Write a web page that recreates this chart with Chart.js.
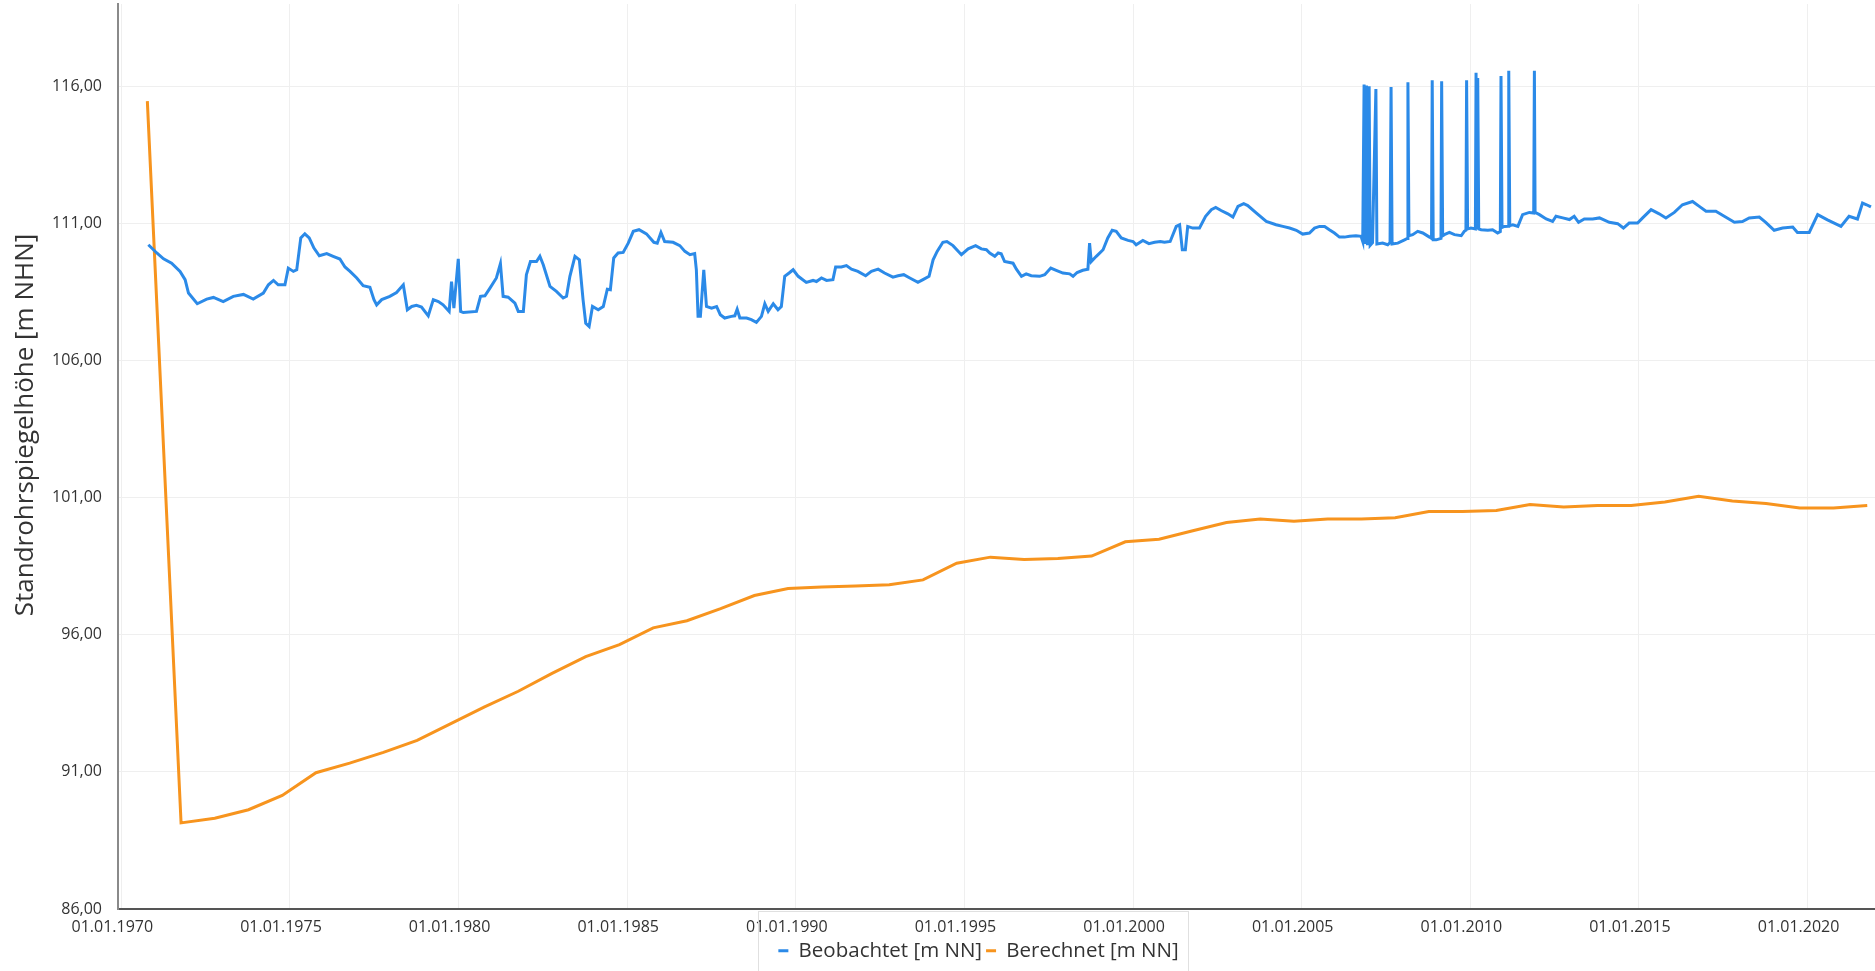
<!DOCTYPE html>
<html>
<head>
<meta charset="utf-8">
<script src="https://cdn.jsdelivr.net/npm/chart.js@4.4.1/dist/chart.umd.min.js"></script>
<style>
  html, body { margin: 0; padding: 0; background: #ffffff; }
  #wrap { width: 1875px; height: 971px; position: relative; }
  canvas { display: block; }
</style>
</head>
<body>
<div id="wrap"><canvas id="c" width="1875" height="971"></canvas></div>
<script>
// ---------- data ----------
const seriesNames = ['Beobachtet [m NN]', 'Berechnet [m NN]'];
const yAxisTitle = 'Standrohrspiegelhöhe [m NHN]';
const xTickYears = [1970, 1975, 1980, 1985, 1990, 1995, 2000, 2005, 2010, 2015, 2020];
const yTickValues = [86, 91, 96, 101, 106, 111, 116];

// observed (Beobachtet): decimal year / level
const obsYears = [
1970.80,1971.05,1971.25,1971.49,1971.74,1971.89,1971.99,1972.25,1972.53,1972.73,
1973.02,1973.32,1973.62,1973.91,1974.21,1974.36,1974.51,1974.65,1974.85,1974.95,
1975.10,1975.20,1975.32,1975.44,1975.57,1975.71,1975.87,1976.09,1976.28,1976.48,
1976.63,1976.78,1976.98,1977.17,1977.37,1977.49,1977.57,1977.72,1977.96,1978.16,
1978.36,1978.48,1978.61,1978.75,1978.90,1979.10,1979.25,1979.40,1979.54,1979.72,
1979.79,1979.86,1979.99,1980.06,1980.14,1980.53,1980.65,1980.78,1980.93,1981.12,
1981.24,1981.32,1981.47,1981.67,1981.77,1981.92,1982.01,1982.13,1982.31,1982.41,
1982.51,1982.71,1982.90,1983.10,1983.20,1983.30,1983.45,1983.58,1983.69,1983.77,
1983.87,1983.97,1984.14,1984.29,1984.41,1984.50,1984.60,1984.73,1984.88,1985.03,
1985.18,1985.35,1985.57,1985.79,1985.89,1986.00,1986.11,1986.36,1986.56,1986.71,
1986.86,1987.00,1987.05,1987.10,1987.17,1987.27,1987.35,1987.50,1987.65,1987.76,
1987.89,1988.09,1988.19,1988.26,1988.34,1988.54,1988.68,1988.83,1988.98,1989.08,
1989.18,1989.33,1989.47,1989.57,1989.67,1989.80,1989.92,1990.07,1990.31,1990.51,
1990.61,1990.76,1990.91,1991.10,1991.18,1991.35,1991.50,1991.65,1991.84,1992.07,
1992.24,1992.44,1992.63,1992.88,1993.03,1993.20,1993.38,1993.62,1993.77,1993.95,
1994.07,1994.19,1994.36,1994.48,1994.66,1994.91,1995.11,1995.33,1995.50,1995.65,
1995.75,1995.90,1996.00,1996.09,1996.19,1996.44,1996.54,1996.69,1996.83,1996.98,
1997.23,1997.38,1997.56,1997.72,1997.92,1998.12,1998.22,1998.34,1998.51,1998.66,
1998.71,1998.76,1998.91,1999.11,1999.25,1999.38,1999.50,1999.65,1999.85,2000.00,
2000.09,2000.29,2000.47,2000.64,2000.81,2000.93,2001.10,2001.28,2001.38,2001.46,
2001.55,2001.62,2001.77,2001.97,2002.15,2002.32,2002.45,2002.61,2002.81,2002.96,
2003.11,2003.28,2003.40,2003.65,2003.95,2004.24,2004.44,2004.64,2004.84,2005.03,
2005.23,2005.38,2005.53,2005.68,2005.82,2005.97,2006.12,2006.27,2006.42,2006.61,
2006.76,2006.81,2006.85,2006.88,2006.92,2006.95,2007.00,2007.03,2007.10,2007.20,
2007.23,2007.40,2007.55,2007.62,2007.65,2007.68,2007.85,2008.05,2008.13,2008.15,
2008.18,2008.29,2008.44,2008.59,2008.79,2008.85,2008.87,2008.90,2008.99,2009.13,
2009.15,2009.18,2009.23,2009.38,2009.53,2009.73,2009.82,2009.87,2009.89,2009.92,
2010.02,2010.15,2010.17,2010.20,2010.22,2010.25,2010.32,2010.52,2010.66,2010.81,
2010.89,2010.91,2010.94,2011.01,2011.12,2011.14,2011.17,2011.26,2011.41,2011.55,
2011.75,2011.88,2011.90,2011.92,2012.05,2012.25,2012.44,2012.54,2012.74,2012.94,
2013.08,2013.21,2013.38,2013.63,2013.83,2014.12,2014.37,2014.54,2014.71,2014.96,
2015.11,2015.36,2015.60,2015.80,2016.05,2016.29,2016.59,2016.79,2016.99,2017.28,
2017.53,2017.83,2018.07,2018.27,2018.57,2018.76,2019.01,2019.26,2019.56,2019.70,
2020.05,2020.30,2020.59,2020.99,2021.23,2021.48,2021.63,2021.75,2021.88
];
const obsValues = [
110.22,109.92,109.71,109.55,109.25,108.95,108.46,108.07,108.24,108.30,
108.15,108.34,108.41,108.24,108.46,108.76,108.92,108.76,108.76,109.37,
109.25,109.31,110.47,110.62,110.47,110.10,109.82,109.90,109.80,109.70,
109.41,109.25,109.01,108.73,108.67,108.22,108.03,108.22,108.34,108.48,
108.76,107.85,107.97,108.01,107.95,107.63,108.22,108.15,108.03,107.79,
108.88,107.91,109.71,107.79,107.75,107.79,108.34,108.36,108.64,109.01,
109.53,108.34,108.31,108.09,107.79,107.79,109.13,109.61,109.61,109.80,
109.49,108.70,108.52,108.28,108.34,109.07,109.80,109.67,108.22,107.36,
107.24,107.97,107.85,107.97,108.60,108.58,109.74,109.92,109.94,110.28,
110.71,110.77,110.62,110.31,110.28,110.67,110.34,110.31,110.19,109.98,
109.86,109.90,109.31,107.61,107.61,109.31,107.97,107.91,107.97,107.67,
107.55,107.61,107.63,107.87,107.55,107.55,107.49,107.39,107.61,108.07,
107.79,108.07,107.85,107.97,109.07,109.19,109.31,109.07,108.85,108.92,
108.88,109.01,108.92,108.95,109.41,109.41,109.46,109.33,109.25,109.09,
109.25,109.33,109.19,109.04,109.09,109.13,109.01,108.85,108.95,109.07,
109.67,109.98,110.31,110.34,110.19,109.86,110.07,110.19,110.07,110.04,
109.92,109.80,109.92,109.89,109.61,109.55,109.33,109.07,109.16,109.09,
109.07,109.13,109.37,109.29,109.19,109.16,109.07,109.21,109.29,109.33,
110.28,109.61,109.80,110.04,110.47,110.75,110.71,110.47,110.38,110.34,
110.22,110.38,110.26,110.31,110.34,110.31,110.34,110.89,110.95,110.04,
110.04,110.89,110.83,110.83,111.26,111.50,111.58,111.47,111.35,111.23,
111.62,111.72,111.65,111.38,111.07,110.95,110.89,110.83,110.75,110.61,
110.65,110.83,110.89,110.89,110.77,110.65,110.50,110.50,110.53,110.55,
110.53,110.34,116.06,110.25,116.03,110.20,116.00,110.20,110.30,115.90,
110.25,110.28,110.22,110.30,115.97,110.25,110.28,110.40,110.45,116.15,
110.55,110.59,110.71,110.65,110.50,110.45,116.22,110.40,110.40,110.45,
116.18,110.55,110.59,110.67,110.59,110.55,110.71,110.75,116.22,110.80,
110.83,110.80,116.49,110.85,116.30,110.80,110.77,110.75,110.77,110.65,
110.70,116.37,110.85,110.89,110.90,116.57,110.92,110.95,110.89,111.32,
111.40,111.38,116.57,111.40,111.32,111.16,111.07,111.26,111.20,111.14,
111.26,111.04,111.16,111.16,111.20,111.04,110.99,110.83,111.01,111.01,
111.20,111.50,111.35,111.20,111.40,111.68,111.80,111.62,111.44,111.44,
111.26,111.04,111.07,111.20,111.23,111.04,110.75,110.83,110.87,110.67,
110.67,111.32,111.13,110.89,111.26,111.16,111.74,111.68,111.60
];

// calculated (Berechnet): decimal year / level
const calcYears = [
1970.77,1971.77,1972.77,1973.77,1974.77,1975.77,1976.77,1977.77,1978.77,1979.77,
1980.77,1981.77,1982.77,1983.77,1984.77,1985.77,1986.77,1987.77,1988.77,1989.77,
1990.77,1991.77,1992.77,1993.77,1994.77,1995.77,1996.77,1997.77,1998.77,1999.77,
2000.77,2001.77,2002.77,2003.77,2004.77,2005.77,2006.77,2007.77,2008.77,2009.77,
2010.77,2011.77,2012.77,2013.77,2014.77,2015.77,2016.77,2017.77,2018.77,2019.77,
2020.77,2021.77
];
const calcValues = [
115.46,89.14,89.31,89.62,90.14,90.97,91.32,91.71,92.15,92.76,
93.37,93.94,94.59,95.20,95.64,96.25,96.51,96.95,97.43,97.69,
97.74,97.78,97.82,98.00,98.61,98.83,98.74,98.78,98.87,99.39,
99.48,99.79,100.09,100.22,100.14,100.22,100.22,100.27,100.49,100.49,
100.53,100.75,100.66,100.71,100.71,100.84,101.05,100.88,100.79,100.62,
100.62,100.71
];

// ---------- chart ----------
const FONT = "'Open Sans', 'Noto Sans', sans-serif";
const LEGEND_SHIFT = 41;
const toPoints = (xs, ys) => xs.map((x, i) => ({ x: x, y: ys[i] }));

const extras = {
  id: 'extras',
  afterLayout(chart) {
    const lg = chart.legend;
    if (lg) { lg.left += LEGEND_SHIFT; lg.right += LEGEND_SHIFT; }
  },
  afterDraw(chart) {
    const ctx = chart.ctx;
    // y axis title
    ctx.save();
    ctx.translate(26, 425);
    ctx.rotate(-Math.PI / 2);
    ctx.fillStyle = '#333333';
    ctx.font = "26px " + FONT;
    ctx.textAlign = 'center';
    ctx.textBaseline = 'middle';
    ctx.fillText(yAxisTitle, 0, 0);
    ctx.restore();
    // legend frame
    const lg = chart.legend;
    if (lg && lg.lineWidths) {
      const pad = lg.options.labels.padding;
      const lw = lg.lineWidths[0];
      const x0 = (lg.left + pad + lg.right - lw) / 2;
      const left = Math.round(x0 - 20);
      const right = Math.round(x0 + lw - pad + 9);
      ctx.save();
      ctx.strokeStyle = '#e0e0e0';
      ctx.lineWidth = 1;
      ctx.strokeRect(left + 0.5, 911.5, right - left, 70);
      ctx.restore();
    }
  }
};

new Chart(document.getElementById('c'), {
  type: 'line',
  data: {
    datasets: [
      {
        label: seriesNames[0],
        data: toPoints(obsYears, obsValues),
        borderColor: '#2b8ae8',
        backgroundColor: '#2b8ae8',
        borderWidth: 3,
        pointRadius: 0,
        tension: 0,
        fill: false
      },
      {
        label: seriesNames[1],
        data: toPoints(calcYears, calcValues),
        borderColor: '#f7941e',
        backgroundColor: '#f7941e',
        borderWidth: 3,
        pointRadius: 0,
        tension: 0,
        fill: false
      }
    ]
  },
  options: {
    responsive: false,
    animation: false,
    devicePixelRatio: 1,
    layout: { padding: { top: 4, right: 0, left: 0, bottom: 0 } },
    plugins: {
      legend: {
        position: 'bottom',
        labels: {
          usePointStyle: true,
          pointStyle: 'line',
          pointStyleWidth: 10,
          boxHeight: 10,
          padding: 4,
          color: '#333333',
          font: { family: FONT, size: 20.5 }
        }
      },
      tooltip: { enabled: false },
      title: { display: false }
    },
    scales: {
      x: {
        type: 'linear',
        min: 1969.9,
        max: 2022.0,
        afterBuildTicks: (axis) => { axis.ticks = xTickYears.map(v => ({ value: v })); },
        afterFit: (scale) => { scale.height = 27.5; scale.paddingLeft = 0; scale.paddingRight = 0; },
        ticks: {
          autoSkip: false,
          maxRotation: 0,
          includeBounds: false,
          padding: 9,
          labelOffset: -9,
          color: '#333333',
          font: { family: FONT, size: 16 },
          callback: (v) => '01.01.' + Math.round(v)
        },
        grid: { color: '#efefef', lineWidth: 1, drawTicks: false },
        border: { color: '#555555', width: 2 }
      },
      y: {
        min: 86,
        max: 119,
        afterBuildTicks: (axis) => { axis.ticks = yTickValues.map(v => ({ value: v })); },
        afterFit: (scale) => { scale.width = 118; scale.paddingTop = 0; scale.paddingBottom = 0; },
        ticks: {
          padding: 16,
          color: '#333333',
          font: { family: FONT, size: 16 },
          callback: (v) => v.toFixed(2).replace('.', ',')
        },
        grid: { color: '#efefef', lineWidth: 1, drawTicks: false },
        border: { color: '#8a8a8a', width: 2 }
      }
    }
  },
  plugins: [extras]
});
</script>
</body>
</html>
